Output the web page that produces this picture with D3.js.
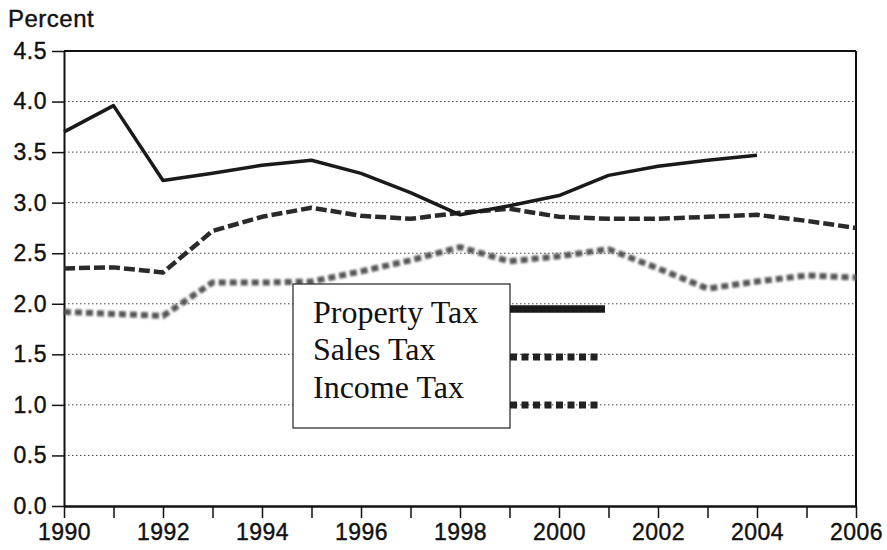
<!DOCTYPE html>
<html>
<head>
<meta charset="utf-8">
<script src="https://cdn.jsdelivr.net/npm/d3@7"></script>
<style>
  html, body { margin: 0; padding: 0; background: #fff; }
  svg { display: block; }
</style>
</head>
<body>
<svg id="chart" width="887" height="550"></svg>
<script>
// Tax shares, percent, 1990-2006
const years = d3.range(1990, 2007);
const propertyTax = [3.70, 3.96, 3.22, 3.29, 3.37, 3.42, 3.29, 3.10, 2.88, 2.97, 3.07, 3.27, 3.36, 3.42, 3.47, null, null];
const salesTax    = [2.35, 2.36, 2.31, 2.72, 2.86, 2.95, 2.87, 2.84, 2.90, 2.94, 2.86, 2.84, 2.84, 2.86, 2.88, 2.82, 2.75];
const incomeTax   = [1.92, 1.90, 1.88, 2.21, 2.21, 2.22, 2.32, 2.43, 2.56, 2.42, 2.47, 2.54, 2.35, 2.15, 2.22, 2.28, 2.26];
const yTicks = [0, 0.5, 1.0, 1.5, 2.0, 2.5, 3.0, 3.5, 4.0, 4.5];
const xTickLabels = ["1990", "1992", "1994", "1996", "1998", "2000", "2002", "2004", "2006"];
const seriesNames = ["Property Tax", "Sales Tax", "Income Tax"];
const yLabel = "Percent";

const svg = d3.select("#chart");
const W = 887, H = 550;
const m = { top: 51, right: 31, bottom: 44, left: 64 };

const x = d3.scaleLinear().domain([1990, 2006]).range([m.left, W - m.right]);
const y = d3.scaleLinear().domain([0, 4.5]).range([H - m.bottom, m.top]);

const sans = "'Liberation Sans', Arial, Helvetica, sans-serif";
const serif = "'Liberation Serif', 'Times New Roman', serif";

function styleLabels(sel, size) {
  sel.attr("font-family", sans)
    .attr("font-size", size || 23)
    .attr("letter-spacing", 0.5)
    .attr("fill", "#111")
    .attr("stroke", "#111")
    .attr("stroke-width", 0.4);
}

// dotted horizontal gridlines
svg.append("g")
  .selectAll("line")
  .data(yTicks.filter(v => v > 0 && v < 4.5))
  .join("line")
  .attr("x1", x(1990)).attr("x2", x(2006))
  .attr("y1", d => y(d)).attr("y2", d => y(d))
  .attr("stroke", "#444")
  .attr("stroke-width", 1)
  .attr("stroke-dasharray", "1.5,2.5");

// frame: top and right edges
svg.append("line")
  .attr("x1", x(1990)).attr("x2", x(2006))
  .attr("y1", y(4.5)).attr("y2", y(4.5))
  .attr("stroke", "#111").attr("stroke-width", 2);
svg.append("line")
  .attr("x1", x(2006)).attr("x2", x(2006))
  .attr("y1", y(4.5)).attr("y2", y(0))
  .attr("stroke", "#111").attr("stroke-width", 2);

// axes
const yAxis = d3.axisLeft(y)
  .tickValues(yTicks)
  .tickFormat(d3.format(".1f"))
  .tickSize(12)
  .tickSizeOuter(0)
  .tickPadding(5);
const gy = svg.append("g")
  .attr("transform", `translate(${m.left},0)`)
  .call(yAxis);
gy.select(".domain").attr("stroke", "#111").attr("stroke-width", 2);
gy.selectAll(".tick line").attr("stroke", "#111").attr("stroke-width", 1.5);
gy.selectAll(".tick text").call(styleLabels);

const xAxis = d3.axisBottom(x)
  .tickValues(years)
  .tickFormat(d => xTickLabels.includes(String(d)) ? String(d) : "")
  .tickSize(12)
  .tickSizeOuter(0)
  .tickPadding(6);
const gx = svg.append("g")
  .attr("transform", `translate(0,${H - m.bottom})`)
  .call(xAxis);
gx.select(".domain").attr("stroke", "#111").attr("stroke-width", 2.5);
gx.selectAll(".tick line").attr("stroke", "#111").attr("stroke-width", 1.5);
gx.selectAll(".tick text").call(styleLabels);

svg.append("text")
  .attr("x", 8).attr("y", 27)
  .call(styleLabels, 24)
  .text(yLabel);

// soft edge used for the income series
const defs = svg.append("defs");
defs.append("filter").attr("id", "soft")
  .append("feGaussianBlur").attr("stdDeviation", 0.8);

const line = d3.line()
  .defined(d => d[1] != null)
  .x(d => x(d[0]))
  .y(d => y(d[1]));

const styles = [
  { data: propertyTax, stroke: "#1a1a1a", width: 3.5, dash: null, filter: null },
  { data: salesTax, stroke: "#2a2a2a", width: 4.5, dash: "11,4", filter: null },
  { data: incomeTax, stroke: "#555", width: 6, dash: "7,4", filter: "url(#soft)" }
];

styles.slice().reverse().forEach(s => {
  svg.append("path")
    .datum(years.map((yr, i) => [yr, s.data[i]]))
    .attr("d", line)
    .attr("fill", "none")
    .attr("stroke", s.stroke)
    .attr("stroke-width", s.width)
    .attr("stroke-dasharray", s.dash)
    .attr("stroke-linejoin", "round")
    .attr("filter", s.filter);
});

// legend
const lg = { x: 293, y: 284, w: 217, h: 144 };
const legend = svg.append("g");
legend.append("rect")
  .attr("x", lg.x).attr("y", lg.y).attr("width", lg.w).attr("height", lg.h)
  .attr("fill", "#fff").attr("stroke", "#222").attr("stroke-width", 1.2);

const legendRows = [
  { text: seriesNames[0], baseline: 323, sampleY: 309, end: 605, width: 7.5, dash: null, stroke: "#1a1a1a" },
  { text: seriesNames[1], baseline: 360, sampleY: 357, end: 598, width: 7, dash: "7,4.5", stroke: "#222" },
  { text: seriesNames[2], baseline: 398, sampleY: 405, end: 598, width: 7, dash: "7,4.5", stroke: "#222" }
];
legendRows.forEach(r => {
  legend.append("text")
    .attr("x", lg.x + 20).attr("y", r.baseline)
    .attr("font-family", serif).attr("font-size", 32).attr("fill", "#111")
    .text(r.text);
  legend.append("line")
    .attr("x1", lg.x + lg.w).attr("x2", r.end)
    .attr("y1", r.sampleY).attr("y2", r.sampleY)
    .attr("stroke", r.stroke).attr("stroke-width", r.width)
    .attr("stroke-dasharray", r.dash);
});
</script>
</body>
</html>
